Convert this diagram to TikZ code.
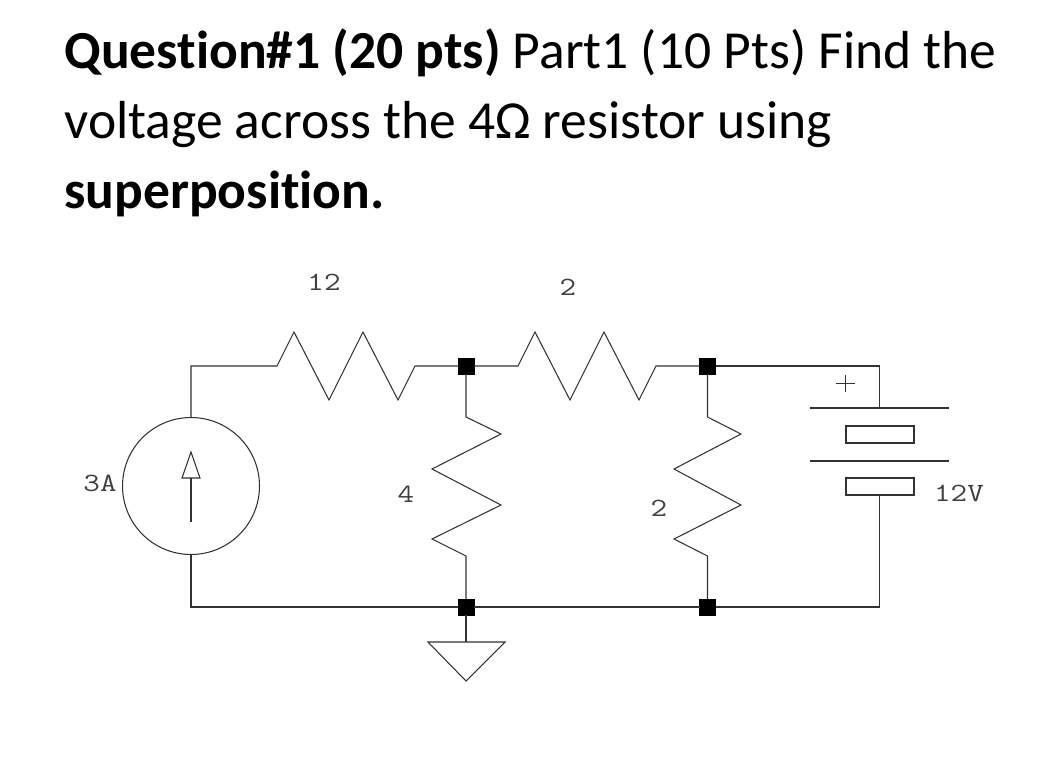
\documentclass[tikz,border=0pt]{standalone}
\usepackage{fontspec}
\setmainfont[Ligatures=NoCommon]{Carlito}
\usetikzlibrary{calc}
\tikzset{
	wire/.style={draw=black!80,line width=0.6pt},
	junct/.style={draw=black,fill=black,rectangle,minimum size=0.32cm,inner sep=0pt,outer sep=0pt},
	title/.style={anchor=base west,inner sep=0pt,font=\fontsize{30.47}{36}\selectfont},
	lbl/.style={inner sep=0pt,text=black!75,font=\fontsize{15}{15}\ttfamily,xscale=1.22,transform shape}
}
\begin{document}
\begin{tikzpicture}[x=0.02cm,y=-0.02cm]
	\useasboundingbox (0,0) rectangle (1057,768);
\node [title] (line1) at (64,68) {\textbf{Question\#1 (20 pts)} Part1 (10 Pts) Find the};
\node [title] (line2) at (64,138) {voltage across the 4Ω resistor using};
\node [title] (line3) at (64,208.5) {\textbf{superposition.}};
\node [junct] (n1) at (466,366) {};
\node [junct] (n2) at (707.5,366) {};
\node [junct] (n3) at (466,607) {};
\node [junct] (n4) at (707.5,607) {};
\node [wire,circle,minimum size=2.74cm,inner sep=0pt,outer sep=0pt] (src) at (191,486) {};
\coordinate (tl) at (191,366);
\coordinate (bl) at (191,607);
\coordinate (tr) at (879.5,366);
\coordinate (br) at (879.5,607);
\coordinate (pos) at (879.5,408);
\coordinate (neg) at (879.5,495);
\coordinate (gnd) at (466,642);
\draw [wire] (src) -- (tl) -- (277,366) -- (294,332) -- (329,400) -- (363,332) -- (398,400) -- (415,366) -- (n1);
\draw [wire] (n1) -- (518,366) -- (535,332) -- (570,400) -- (604,332) -- (639,400) -- (656,366) -- (n2);
\draw [wire] (n1) -- (466,417) -- (501,434) -- (432,469) -- (501,505) -- (432,539) -- (466,556) -- (n3);
\draw [wire] (n2) -- (707.5,417) -- (741,434) -- (674,469) -- (741,505) -- (674,539) -- (707.5,556) -- (n4);
\draw [wire] (src) -- (bl) -- (n3);
\draw [wire] (n3) -- (n4);
\draw [wire] (n4) -- (br) -- (neg);
\draw [wire] (n2) -- (tr) -- (pos);
\draw [wire] (n3) -- (gnd);
\draw [wire] (428,642) -- (505,642) -- (466,681) -- cycle;
\draw [wire] (191,522) -- (191,478);
\draw [wire] (182,478) -- (200,478) -- (191,452) -- cycle;
\draw [wire] (810,408) -- (949,408);
\draw [wire] (810,461) -- (949,461);
\draw [wire] (846,426) rectangle (914,443);
\draw [wire] (846,478) rectangle (914,495);
\draw [wire,line width=0.4pt] (836,383) -- (855,383);
\draw [wire,line width=0.4pt] (845,375) -- (845,392);
\node [lbl] (l12) at (324,282) {12};
\node [lbl] (l2a) at (568,287) {2};
\node [lbl] (l3A) at (100,483) {3A};
\node [lbl] (l4) at (406,494) {4};
\node [lbl] (l2b) at (659,508) {2};
\node [lbl] (l12V) at (959,493) {12V};
\end{tikzpicture}
\end{document}
